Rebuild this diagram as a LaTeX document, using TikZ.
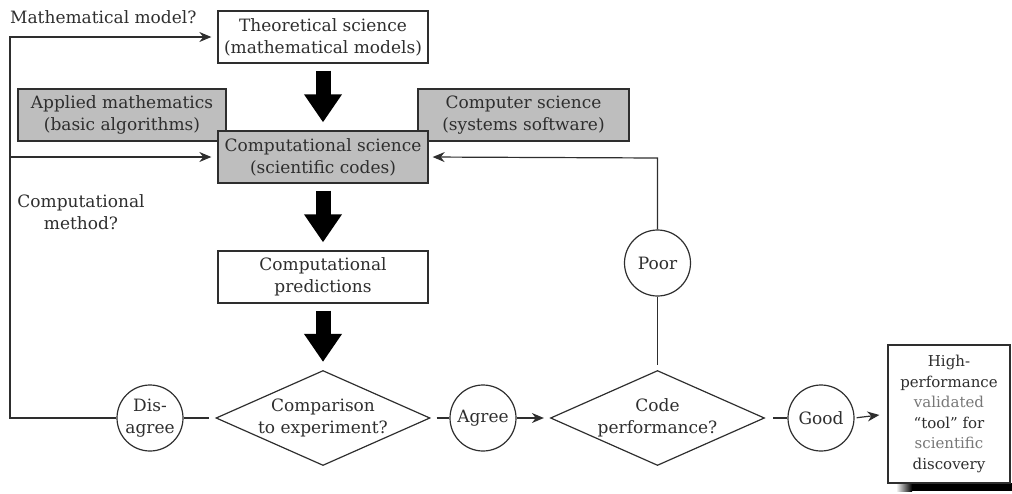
\documentclass[tikz,border=0pt]{standalone}
\usepackage{fontspec}
\setmainfont{DejaVu Serif}
\usetikzlibrary{arrows.meta,shapes.geometric,calc}
\definecolor{ink}{HTML}{2E2E2E}
\definecolor{boxgray}{HTML}{BEBEBE}
\definecolor{lightink}{HTML}{777777}
\begin{document}
\begin{tikzpicture}[x=1pt,y=-1pt,
  font=\fontsize{17}{22}\selectfont, text=ink,
  box/.style={draw=ink, line width=1.3pt, minimum width=210pt, minimum height=52pt, align=center, inner sep=0pt, fill=white},
  gbox/.style={box, fill=boxgray},
  diam/.style={draw=ink, line width=1.2pt, diamond, minimum width=214pt, minimum height=95pt, inner sep=0pt},
  circ/.style={draw=ink, line width=1.2pt, circle, minimum size=66pt, inner sep=0pt, align=center},
  conn/.style={draw=ink, line width=1.2pt},
  arr/.style={conn, -{Stealth[length=12pt,width=10pt]}},
  big/.style={draw=black, line width=15pt, -{Triangle[length=28pt,width=36pt]}}]
\useasboundingbox (0,0) rectangle (1012,493);

% side boxes first (overlapped by the central one)
\node[gbox, minimum width=208pt] (appl) at (122,115) {Applied mathematics\\(basic algorithms)};
\node[gbox, minimum width=211pt] (csci) at (523.5,115) {Computer science\\(systems software)};

\node[box] (theo) at (323,37) {Theoretical science\\(mathematical models)};
\node[gbox] (comp) at (323,157) {Computational science\\(scientific codes)};
\node[box] (pred) at (323,277) {Computational\\predictions};

\node[diam, label={[align=center]center:Comparison\\to experiment?}] (cmp) at (323,418) {};
\node[diam, label={[align=center]center:Code\\performance?}] (code) at (657.5,418) {};

\node[circ] (dis) at (150,418) {Dis-\\agree};
\node[circ] (agr) at (483,418) {Agree};
\node[circ] (good) at (821,418) {Good};
\node[circ] (poor) at (657.5,263) {Poor};

% final box with shadow
\coordinate (fc) at (949,414);
\fill[black] (912,483) rectangle (1012,491);
\shade[left color=white, right color=black] (896,483) rectangle (912,491);
\node[draw=ink, line width=1.4pt, fill=white, minimum width=122pt, minimum height=138pt, inner sep=0pt, align=center,
  font=\fontsize{15}{20.5}\selectfont] (fin) at (fc)
  {High-\\performance\\{\color{lightink}validated}\\“tool” for\\{\color{lightink}scientific}\\discovery};

% free labels
\node[anchor=west, inner sep=0pt] (mm) at (10,17) {Mathematical model?};
\node[align=center, inner sep=0pt] (cm) at (81,212) {Computational\\method?};

% big arrows
\draw[big, shorten <=7pt, shorten >=8pt] (theo.south) -- (comp.north);
\draw[big, shorten <=7pt, shorten >=8pt] (comp.south) -- (pred.north);
\draw[big, shorten <=7pt, shorten >=8pt] (pred.south) -- (cmp.north);

% left loop
\coordinate (L) at (10,418);
\draw[arr, shorten >=6pt] (dis.west) -- (L) |- (theo.west);
\draw[arr, shorten >=6pt] (L) |- (comp.west);

% right loop
\coordinate (R) at (657.5,158);
\draw[conn, shorten >=5pt] (poor.south) -- (code.north);
\draw[arr, shorten >=4pt] (poor.north) -- (R) -- (comp.east);

% bottom row
\draw[conn, shorten >=6pt] (dis.east) -- (cmp.west);
\draw[conn, shorten <=6pt] (cmp.east) -- (agr.west);
\draw[arr, shorten >=6pt] (agr.east) -- (code.west);
\draw[conn, shorten <=8pt] (code.east) -- (good.west);
\draw[arr, shorten >=8pt, shorten <=2pt] (good.east) -- (fin.west);
\end{tikzpicture}
\end{document}
